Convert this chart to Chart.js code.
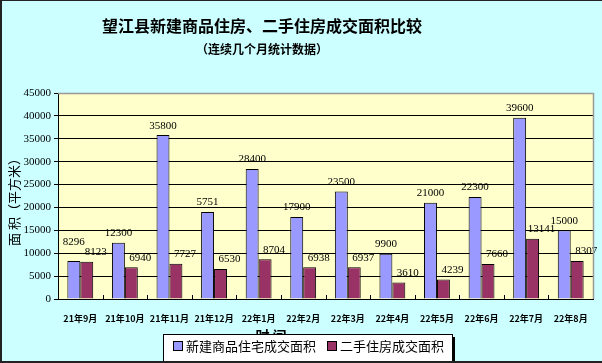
<!DOCTYPE html>
<html>
<head>
<meta charset="utf-8">
<script src="https://cdn.jsdelivr.net/npm/chart.js@4/dist/chart.umd.min.js"></script>
<style>
html,body{margin:0;padding:0;background:#CCFFFF;}
canvas{display:block;}
</style>
</head>
<body>
<canvas id="c" width="602" height="363"></canvas>
<script>
const categories = ['21年9月','21年10月','21年11月','21年12月','22年1月','22年2月','22年3月','22年4月','22年5月','22年6月','22年7月','22年8月'];
const newHouse = [8296, 12300, 35800, 19000, 28400, 17900, 23500, 9900, 21000, 22300, 39600, 15000];
const newHouseLabels = ['8296','12300','35800','5751','28400','17900','23500','9900','21000','22300','39600','15000'];
const secondHand = [8123, 6940, 7727, 6530, 8704, 6938, 6937, 3610, 4239, 7660, 13141, 8307];
const secondHandLabels = ['8123','6940','7727','6530','8704','6938','6937','3610','4239','7660','13141','8307'];
const seriesNames = ['新建商品住宅成交面积','二手住房成交面积'];
const yTicks = [0,5000,10000,15000,20000,25000,30000,35000,40000,45000];
const titleText = '望江县新建商品住房、二手住房成交面积比较';
const subtitleText = '（连续几个月统计数据）';
const yTitle = '面 积（平方米）';
const xTitle = '时 间';

const CJK = '"Noto Sans CJK SC", sans-serif';
const SERIF = '"Liberation Serif", "DejaVu Serif", serif';

const decor = {
  id: 'decor',
  beforeDraw(chart) {
    const ctx = chart.ctx, a = chart.chartArea;
    ctx.save();
    ctx.fillStyle = '#CCFFFF';
    ctx.fillRect(0, 0, chart.width, chart.height);
    ctx.fillStyle = '#FFFFCC';
    ctx.fillRect(a.left, a.top, a.right - a.left, a.bottom - a.top);
    ctx.restore();
  },
  afterDatasetsDraw(chart) {
    const ctx = chart.ctx;
    ctx.save();
    ctx.font = '11px ' + SERIF;
    ctx.fillStyle = '#000';
    ctx.textAlign = 'center';
    ctx.textBaseline = 'bottom';
    const m0 = chart.getDatasetMeta(0), m1 = chart.getDatasetMeta(1);
    m0.data.forEach((b0, j) => {
      const b1 = m1.data[j];
      const y1 = b1.y - 4;
      let y0 = b0.y - 4;
      if (Math.abs(y0 - y1) < 11) y0 = y1 - 10;
      ctx.fillText(newHouseLabels[j], b0.x, y0);
      ctx.fillText(secondHandLabels[j], b1.x + 9, y1);
    });
    ctx.restore();
  },
  afterDraw(chart) {
    const ctx = chart.ctx, a = chart.chartArea;
    ctx.save();
    ctx.strokeStyle = '#999999';
    ctx.lineWidth = 1.5;
    ctx.beginPath();
    ctx.moveTo(a.left, a.top + 0.5);
    ctx.lineTo(a.right + 0.5, a.top + 0.5);
    ctx.lineTo(a.right + 0.5, a.bottom);
    ctx.stroke();
    ctx.strokeStyle = '#000';
    ctx.lineWidth = 1;
    const n = categories.length;
    const w = (a.right - a.left) / n;
    for (let i = 1; i < n; i++) {
      const x = Math.round(a.left + w * i) + 0.5;
      ctx.beginPath();
      ctx.moveTo(x, a.bottom);
      ctx.lineTo(x, a.bottom - 4);
      ctx.stroke();
    }
    ctx.fillStyle = '#000';
    ctx.textAlign = 'center';
    ctx.textBaseline = 'middle';
    ctx.font = 'bold 16px ' + CJK;
    ctx.fillText(titleText, 262, 26);
    ctx.font = 'bold 12px ' + CJK;
    ctx.fillText(subtitleText, 262, 49);
    ctx.save();
    ctx.translate(14, 199);
    ctx.rotate(-Math.PI / 2);
    ctx.font = '13px ' + CJK;
    ctx.fillText(yTitle, 0, 0);
    ctx.restore();
    ctx.font = 'bold 14px ' + CJK;
    ctx.fillText(xTitle, 271, 336);
    const lx = 163, ly = 334, lw = 289, lh = 32;
    ctx.fillStyle = '#000';
    ctx.fillRect(lx + 3, ly + 3, lw, lh);
    ctx.fillStyle = '#FFFFFF';
    ctx.fillRect(lx, ly, lw, lh);
    ctx.strokeStyle = '#000';
    ctx.lineWidth = 1;
    ctx.strokeRect(lx + 0.5, ly + 0.5, lw, lh);
    const items = [[173, 186], [327, 340]];
    ctx.textAlign = 'left';
    ctx.font = '13px ' + CJK;
    chart.data.datasets.forEach((ds, i) => {
      const [sx, tx] = items[i];
      ctx.fillStyle = ds.backgroundColor;
      ctx.fillRect(sx, 341, 9, 9);
      ctx.strokeStyle = '#000';
      ctx.strokeRect(sx + 0.5, 341.5, 9, 9);
      ctx.fillStyle = '#000';
      ctx.fillText(ds.label, tx, 346);
    });
    ctx.fillStyle = '#222';
    ctx.fillRect(0, 0, chart.width, 1);
    ctx.fillRect(0, 0, 2, chart.height);
    ctx.fillRect(0, chart.height - 2, chart.width, 2);
    ctx.restore();
  }
};

new Chart(document.getElementById('c'), {
  type: 'bar',
  data: {
    labels: categories,
    datasets: [
      { label: seriesNames[0], data: newHouse, backgroundColor: '#9999FF', borderColor: '#000', borderWidth: 1 },
      { label: seriesNames[1], data: secondHand, backgroundColor: '#993366', borderColor: '#000', borderWidth: 1 }
    ]
  },
  options: {
    responsive: false,
    animation: false,
    devicePixelRatio: 1,
    layout: { padding: { left: 0, right: 9, top: 93, bottom: 0 } },
    datasets: { bar: { categoryPercentage: 0.58, barPercentage: 1.0 } },
    plugins: { legend: { display: false }, title: { display: false }, tooltip: { enabled: false } },
    scales: {
      x: {
        grid: { display: false },
        border: { color: '#000', width: 1 },
        ticks: { color: '#000', font: { family: CJK, size: 9, weight: 'bold' }, padding: 6, maxRotation: 0, autoSkip: false },
        afterFit(s) { s.height = 64; }
      },
      y: {
        min: 0, max: 45000,
        afterBuildTicks(s) { s.ticks = yTicks.map(v => ({ value: v })); },
        grid: {
          color: ctx => (ctx.tick && ctx.tick.value === 45000) ? 'rgba(0,0,0,0)' : '#000',
          lineWidth: 1,
          tickLength: 4,
          tickColor: '#000'
        },
        border: { color: '#000', width: 1 },
        ticks: { color: '#000', font: { family: SERIF, size: 11 }, padding: 3, callback: v => String(v) },
        afterFit(s) { s.width = 58; }
      }
    }
  },
  plugins: [decor]
});
</script>
</body>
</html>
